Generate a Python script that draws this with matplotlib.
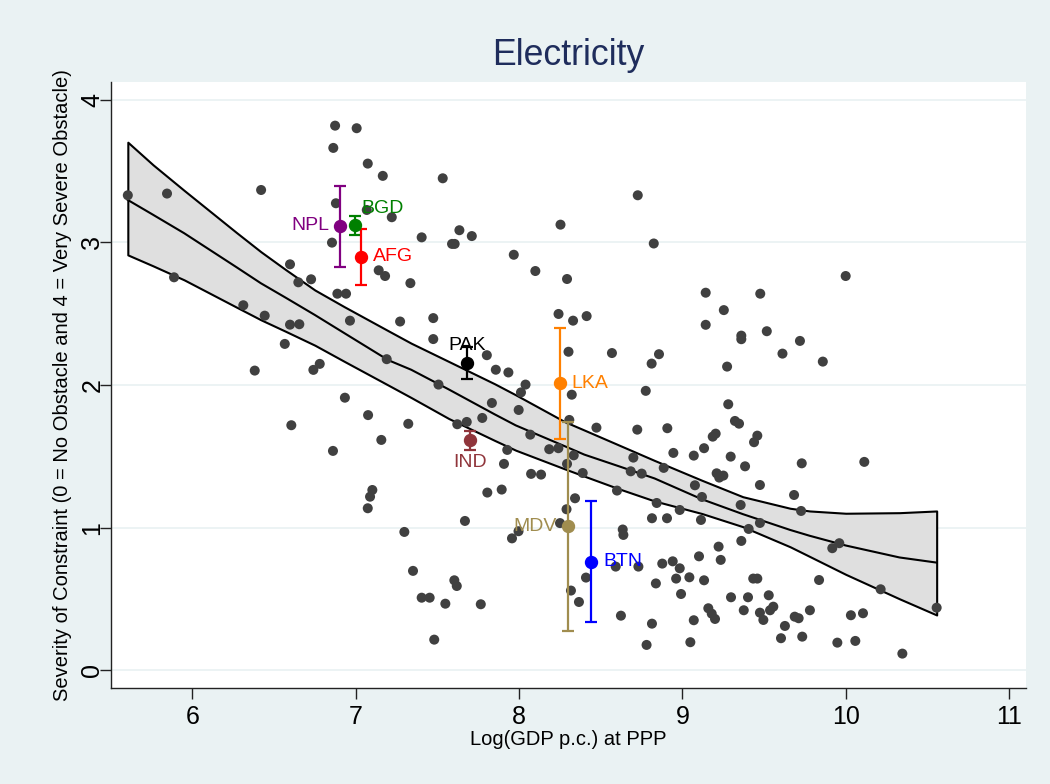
import matplotlib
matplotlib.use("Agg")
import matplotlib.pyplot as plt
import numpy as np

# ---------------- data ----------------
gdp = [5.605, 5.845, 6.421, 6.874, 7.006, 6.863, 7.074, 7.166, 6.879, 7.068, 7.221, 6.855,
       6.598, 6.727, 6.649, 7.141, 7.180, 7.335, 6.888, 6.941, 5.888, 6.312, 6.443, 6.598,
       6.655, 6.965, 7.272, 6.566, 6.780, 6.741, 6.382, 7.190, 6.934, 7.533, 7.404, 7.635,
       7.711, 7.590, 7.606, 7.968, 8.100, 7.475, 7.475, 7.803, 7.858, 7.935, 8.040, 8.012,
       7.507,
       8.727, 8.254, 8.825, 8.294, 9.143, 9.143, 8.242, 8.331, 8.414, 8.303, 8.569, 8.857,
       8.812, 8.776, 8.323, 10.000, 9.477, 9.254, 9.361, 9.361, 9.517, 9.720, 9.613, 9.860,
       9.274,
       6.606, 7.076, 7.322, 7.157, 6.861, 7.102, 7.088, 7.074, 7.298, 7.351, 7.622, 7.680,
       7.775, 7.834, 7.998, 8.069, 7.928, 7.908, 8.074, 8.135, 8.185, 7.806, 7.894, 7.669,
       7.957, 7.997, 7.604, 7.619, 7.404, 7.453, 7.549, 7.766, 7.481,
       8.241, 8.308, 8.335, 8.294, 8.390, 8.474, 8.724, 8.908, 8.700, 8.684, 8.751, 8.945,
       9.070, 9.133, 8.886, 9.077, 9.120, 8.600, 8.343, 8.291, 8.251, 8.843, 8.814, 8.906,
       8.984, 9.114, 8.635, 8.639, 9.102, 8.877, 8.941, 8.984, 9.043, 8.962, 9.133, 8.838,
       8.992, 8.592, 8.731, 8.410, 8.318, 8.367, 8.624, 8.814, 9.070, 8.781, 9.049,
       9.281, 9.322, 9.347, 9.186, 9.204, 9.439, 9.459, 9.296, 9.384, 9.210, 9.226, 9.251,
       9.475, 9.731, 10.114, 9.684, 9.727, 9.357, 9.475, 9.406, 9.361, 9.222, 9.235, 9.918,
       9.961, 9.434, 9.459, 9.837, 10.214, 10.557, 9.298, 9.402, 9.529, 9.159, 9.180, 9.200,
       9.376, 9.475, 9.496, 9.537, 9.557, 9.628, 9.604, 9.688, 9.712, 9.734, 9.781, 9.949,
       10.032, 10.106, 10.059, 10.347]

severity = [3.331, 3.343, 3.368, 3.819, 3.801, 3.663, 3.553, 3.467, 3.275, 3.228, 3.177, 2.999,
            2.847, 2.742, 2.721, 2.805, 2.765, 2.715, 2.641, 2.641, 2.756, 2.560, 2.487, 2.424,
            2.427, 2.452, 2.446, 2.289, 2.149, 2.107, 2.102, 2.182, 1.912, 3.450, 3.036, 3.086,
            3.045, 2.990, 2.990, 2.914, 2.800, 2.470, 2.323, 2.210, 2.108, 2.089, 2.004, 1.949,
            2.004,
            3.331, 3.125, 2.993, 2.744, 2.648, 2.423, 2.499, 2.452, 2.484, 2.234, 2.225, 2.217,
            2.151, 1.960, 1.933, 2.765, 2.641, 2.526, 2.347, 2.322, 2.378, 2.310, 2.221, 2.165,
            2.130,
            1.719, 1.790, 1.729, 1.616, 1.539, 1.265, 1.218, 1.137, 0.971, 0.698, 1.726, 1.742,
            1.770, 1.875, 1.826, 1.653, 1.546, 1.448, 1.378, 1.373, 1.551, 1.247, 1.268, 1.048,
            0.926, 0.976, 0.632, 0.592, 0.510, 0.510, 0.468, 0.464, 0.216,
            1.558, 1.756, 1.508, 1.448, 1.384, 1.702, 1.688, 1.698, 1.492, 1.396, 1.380, 1.525,
            1.506, 1.558, 1.420, 1.298, 1.216, 1.261, 1.207, 1.130, 1.033, 1.174, 1.067, 1.067,
            1.125, 1.055, 0.988, 0.950, 0.800, 0.749, 0.765, 0.716, 0.653, 0.644, 0.632, 0.610,
            0.536, 0.728, 0.728, 0.651, 0.560, 0.480, 0.384, 0.328, 0.352, 0.179, 0.198,
            1.866, 1.749, 1.730, 1.639, 1.660, 1.600, 1.646, 1.499, 1.431, 1.382, 1.352, 1.366,
            1.300, 1.452, 1.462, 1.230, 1.118, 1.160, 1.034, 0.992, 0.908, 0.868, 0.775, 0.857,
            0.892, 0.644, 0.644, 0.634, 0.569, 0.440, 0.513, 0.513, 0.527, 0.436, 0.398, 0.361,
            0.422, 0.405, 0.354, 0.422, 0.447, 0.312, 0.226, 0.377, 0.366, 0.237, 0.422, 0.195,
            0.387, 0.401, 0.207, 0.118]

fit_x = [5.605, 5.76, 5.95, 6.27, 6.42, 6.57, 6.75, 6.93, 7.20, 7.34, 7.57, 7.85, 7.98,
         8.28, 8.40, 8.61, 8.83, 9.12, 9.37, 9.66, 9.78, 10.0, 10.33, 10.557]
fit_mid = [3.298, 3.194, 3.065, 2.827, 2.714, 2.614, 2.492, 2.365, 2.175, 2.108, 1.970, 1.796,
           1.718, 1.572, 1.513, 1.432, 1.346, 1.200, 1.096, 0.985, 0.944, 0.876, 0.792, 0.756]
fit_upper = [3.703, 3.544, 3.365, 3.070, 2.935, 2.811, 2.667, 2.550, 2.381, 2.294, 2.166, 2.010,
             1.932, 1.744, 1.685, 1.581, 1.472, 1.333, 1.218, 1.137, 1.118, 1.102, 1.106, 1.118]
fit_lower = [2.913, 2.836, 2.738, 2.547, 2.458, 2.378, 2.280, 2.167, 2.000, 1.913, 1.766, 1.613,
             1.544, 1.413, 1.362, 1.274, 1.188, 1.100, 1.008, 0.867, 0.799, 0.674, 0.502, 0.389]

countries = ["NPL", "BGD", "AFG", "PAK", "LKA", "IND", "MDV", "BTN"]
c_gdp = [6.906, 6.996, 7.035, 7.682, 8.251, 7.700, 8.302, 8.441]
c_sev = [3.116, 3.123, 2.901, 2.153, 2.013, 1.616, 1.011, 0.763]
c_lo = [2.831, 3.053, 2.702, 2.041, 1.621, 1.546, 0.279, 0.338]
c_hi = [3.398, 3.188, 3.097, 2.270, 2.399, 1.681, 1.744, 1.186]

xticks = [6, 7, 8, 9, 10, 11]
yticks = [0, 1, 2, 3, 4]

# ---------------- styles ----------------
c_colors = {"NPL": "#800080", "BGD": "#008000", "AFG": "#FF0000", "PAK": "#000000",
            "LKA": "#FF8000", "IND": "#90353B", "MDV": "#A08D4F", "BTN": "#0000FF"}
# label offsets (points) and alignment
c_label = {"NPL": ((-8, 0), "right", "center"),
           "BGD": ((4.5, 12), "left", "center"),
           "AFG": ((8, 0), "left", "center"),
           "PAK": ((0, 13), "center", "center"),
           "LKA": ((8.3, 0), "left", "center"),
           "IND": ((0, -16.5), "center", "center"),
           "MDV": ((-8.3, 0), "right", "center"),
           "BTN": ((8.8, 0), "left", "center")}

plt.rcParams["font.family"] = ["Liberation Sans", "DejaVu Sans"]
bg = "#EAF2F3"

fig = plt.figure(figsize=(10.5, 7.84), dpi=100, facecolor=bg)
ax = fig.add_axes([111 / 1050, 1 - 688 / 784, (1026 - 111) / 1050, (688 - 82) / 784])
ax.set_facecolor("white")

ax.set_xlim(5.502, 11.104)
ax.set_ylim(-0.123, 4.125)

for yv in yticks:
    ax.axhline(yv, color=bg, lw=1.3, zorder=0.5)

ax.fill_between(fit_x, fit_lower, fit_upper, facecolor="#DFDFDF", edgecolor="black",
                linewidth=1.5, zorder=1)
ax.plot(fit_x, fit_mid, color="black", lw=1.5, zorder=1.2)

ax.scatter(gdp, severity, s=52, color="#404040", edgecolors="none", zorder=2)

for i, code in enumerate(countries):
    col = c_colors[code]
    ax.errorbar([c_gdp[i]], [c_sev[i]],
                yerr=[[c_sev[i] - c_lo[i]], [c_hi[i] - c_sev[i]]],
                fmt="o", color=col, ms=8.6, mec=col, elinewidth=1.6, capsize=4.6,
                capthick=1.6, zorder=3)
    (dx, dy), ha, va = c_label[code]
    ax.annotate(code, (c_gdp[i], c_sev[i]), xytext=(dx, dy), textcoords="offset points",
                ha=ha, va=va, color=col, fontsize=14, zorder=4)

ax.set_xticks(xticks)
ax.set_yticks(yticks)
ax.tick_params(axis="both", direction="out", length=7.7, width=1.0, color="#222222",
               labelsize=18)
ax.tick_params(axis="x", pad=4.5)
ax.tick_params(axis="y", labelrotation=90, pad=-3)
for lab in ax.get_yticklabels():
    lab.set_va("center")

for s in ["top", "right"]:
    ax.spines[s].set_visible(False)
for s in ["left", "bottom"]:
    ax.spines[s].set_color("#222222")
    ax.spines[s].set_linewidth(1.0)

ax.set_xlabel("Log(GDP p.c.) at PPP", fontsize=14.5, labelpad=1)
ax.set_ylabel("Severity of Constraint (0 = No Obstacle and 4 = Very Severe Obstacle)",
              fontsize=14.5, labelpad=6)
ax.set_title("Electricity", fontsize=25.7, color="#1F2D5C", pad=12)

fig.savefig("out.png", dpi=100, facecolor=bg)
